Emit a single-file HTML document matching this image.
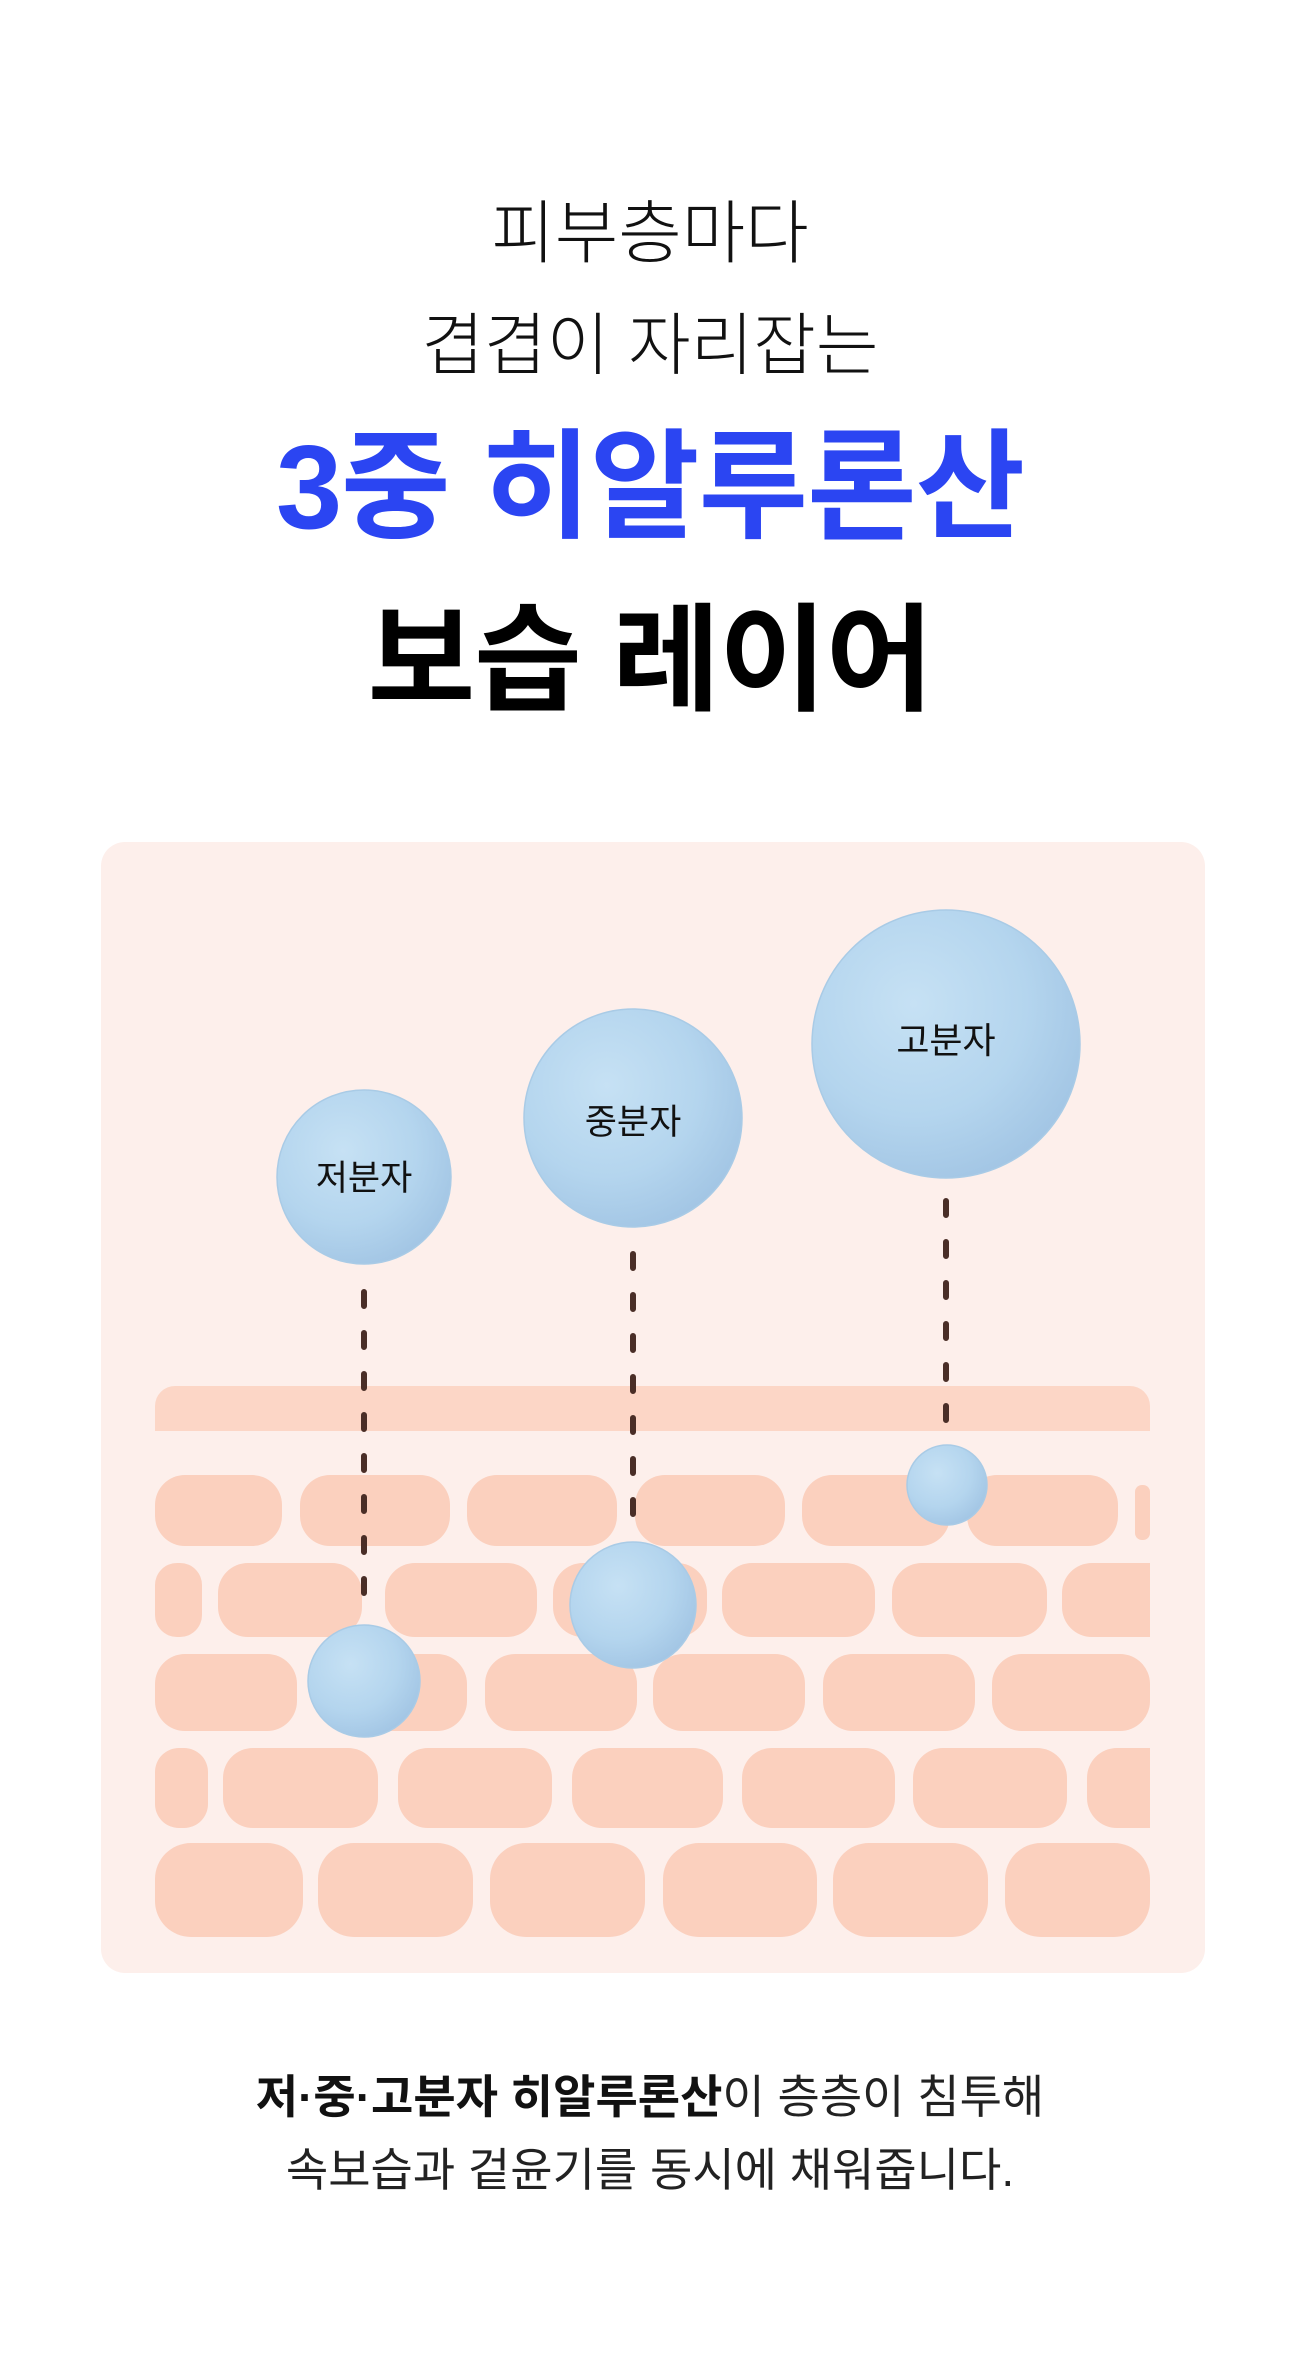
<!DOCTYPE html>
<html><head><meta charset="utf-8"><style>
html,body{margin:0;padding:0;background:#fff;}
body{width:1300px;height:2360px;position:relative;overflow:hidden;font-family:"Liberation Sans","Noto Sans CJK KR",sans-serif;}
.t{position:absolute;left:0;width:1300px;text-align:center;white-space:nowrap;}
</style></head><body>
<div class="t" style="top:196px;font-size:69px;line-height:76px;color:#111;font-weight:300;">피부층마다</div>
<div class="t" style="top:308px;font-size:68px;line-height:76px;color:#111;font-weight:300;">겹겹이 자리잡는</div>
<div class="t" style="top:425px;font-size:119px;line-height:126px;color:#2b45f2;font-weight:700;letter-spacing:-1px;">3중 히알루론산</div>
<div class="t" style="top:598px;font-size:117px;line-height:126px;color:#000;font-weight:700;letter-spacing:-1px;">보습 레이어</div>

<svg style="position:absolute;left:0;top:0" width="1300" height="2360" viewBox="0 0 1300 2360">
<defs>
<radialGradient id="sp" cx="0.38" cy="0.35" r="0.7">
<stop offset="0" stop-color="#c6e1f4"/>
<stop offset="0.6" stop-color="#b4d5ee"/>
<stop offset="1" stop-color="#a2c5e4"/>
</radialGradient>
</defs>
<rect x="101" y="842" width="1104" height="1131" rx="24" fill="#fdefeb"/>
<g fill="#fbd0be">
<path d="M155 1431 V1406 a20 20 0 0 1 20 -20 H1130 a20 20 0 0 1 20 20 V1431 Z" fill="#fcd6c6"/>
<rect x="155" y="1475" width="127" height="71" rx="30"/>
<rect x="300" y="1475" width="150" height="71" rx="30"/>
<rect x="467" y="1475" width="150" height="71" rx="30"/>
<rect x="635" y="1475" width="150" height="71" rx="30"/>
<rect x="802" y="1475" width="148" height="71" rx="30"/>
<rect x="967" y="1475" width="151" height="71" rx="30"/>
<rect x="1135" y="1485" width="15" height="55" rx="7"/>
<rect x="155" y="1563" width="47" height="74" rx="22"/>
<rect x="218" y="1563" width="144" height="74" rx="30"/>
<rect x="385" y="1563" width="152" height="74" rx="30"/>
<rect x="553" y="1563" width="154" height="74" rx="30"/>
<rect x="722" y="1563" width="153" height="74" rx="30"/>
<rect x="892" y="1563" width="155" height="74" rx="30"/>
<rect x="1062" y="1563" width="88" height="74" rx="30"/>
<rect x="1100" y="1563" width="50" height="74"/>
<rect x="155" y="1654" width="142" height="77" rx="30"/>
<rect x="317" y="1654" width="150" height="77" rx="30"/>
<rect x="485" y="1654" width="152" height="77" rx="30"/>
<rect x="653" y="1654" width="152" height="77" rx="30"/>
<rect x="823" y="1654" width="152" height="77" rx="30"/>
<rect x="992" y="1654" width="158" height="77" rx="30"/>
<rect x="155" y="1748" width="53" height="80" rx="24"/>
<rect x="223" y="1748" width="155" height="80" rx="30"/>
<rect x="398" y="1748" width="154" height="80" rx="30"/>
<rect x="572" y="1748" width="151" height="80" rx="30"/>
<rect x="742" y="1748" width="153" height="80" rx="30"/>
<rect x="913" y="1748" width="154" height="80" rx="30"/>
<rect x="1087" y="1748" width="63" height="80" rx="30"/>
<rect x="1120" y="1748" width="30" height="80"/>
<rect x="155" y="1843" width="148" height="94" rx="36"/>
<rect x="318" y="1843" width="155" height="94" rx="36"/>
<rect x="490" y="1843" width="155" height="94" rx="36"/>
<rect x="663" y="1843" width="154" height="94" rx="36"/>
<rect x="833" y="1843" width="155" height="94" rx="36"/>
<rect x="1005" y="1843" width="145" height="94" rx="36"/>
</g>
<g stroke="#4a2e27" stroke-width="6" stroke-linecap="round" stroke-dasharray="14 27" fill="none">
<line x1="364" y1="1292" x2="364" y2="1604"/>
<line x1="633" y1="1254" x2="633" y2="1523"/>
<line x1="946" y1="1201" x2="946" y2="1431"/>
</g>
<g fill="url(#sp)" stroke="#a9cbe6" stroke-width="1.5">
<circle cx="364" cy="1177" r="87"/>
<circle cx="633" cy="1118" r="109"/>
<circle cx="946" cy="1044" r="134"/>
<circle cx="364" cy="1681" r="56"/>
<circle cx="633" cy="1605" r="63"/>
<circle cx="947" cy="1485" r="40"/>
</g>
<g font-family="Liberation Sans, Noto Sans CJK KR, sans-serif" font-size="35" fill="#111" text-anchor="middle">
<text x="364" y="1190">저분자</text>
<text x="633" y="1134">중분자</text>
<text x="946" y="1053" font-size="36">고분자</text>
</g>
</svg>

<div class="t" style="top:2070px;font-size:46px;line-height:54px;color:#222;"><b style="color:#111">저·중·고분자 히알루론산</b>이 층층이 침투해</div>
<div class="t" style="top:2143px;font-size:46px;line-height:54px;color:#222;">속보습과 겉윤기를 동시에 채워줍니다.</div>
</body></html>
